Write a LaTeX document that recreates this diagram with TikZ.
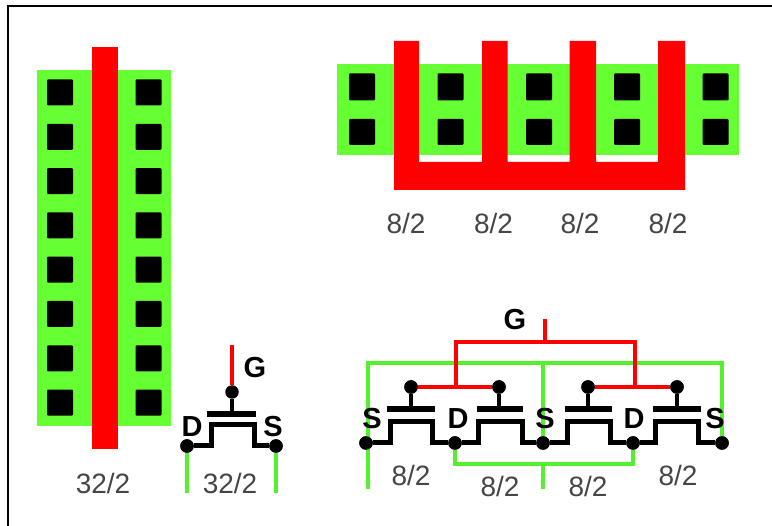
\documentclass[tikz,border=0pt]{standalone}
\usepackage{fontspec}
\setmainfont{Liberation Sans}
\usepackage{tikz}
\usetikzlibrary{calc}
\definecolor{mygreen}{RGB}{102,255,51}
\definecolor{mywire}{RGB}{85,240,45}
\definecolor{myred}{RGB}{255,0,0}
\definecolor{mygray}{RGB}{70,70,70}
\tikzset{
    diffusion/.style = {fill=mygreen},
    poly/.style      = {fill=myred},
    contact/.style   = {fill=black, rounded corners=1pt},
    wireG/.style     = {draw=mywire, line width=4.8pt},
    wireR/.style     = {draw=myred, line width=4.8pt},
    channel/.style   = {draw=black, line width=5pt},
    plate/.style     = {draw=black, line width=6.4pt},
    stem/.style      = {draw=black, line width=4.2pt},
    dot/.style       = {circle, fill=black, minimum size=13.5pt, inner sep=0pt},
    size/.style      = {text=mygray, font=\fontsize{28}{30}\selectfont, inner sep=0pt},
    pin/.style       = {text=black, font=\fontsize{29}{31}\selectfont\bfseries, inner sep=0pt},
}

\begin{document}
\begin{tikzpicture}[x=1pt,y=-1pt]
    \useasboundingbox (0,0) rectangle (772,526);
    \fill[white] (0,0) rectangle (772,526);
    \draw[black, line width=1.6pt] (8,526) -- (8,6) -- (772,6);

    % Layout left
    \fill[diffusion] (37,70) rectangle (171,426);
    \foreach \i in {0,...,7} {
        \fill[contact] ($(47,79.5)+(0,44.3*\i)$) rectangle +(26,26);
        \fill[contact] ($(135.5,79.5)+(0,44.3*\i)$) rectangle +(26,26);
    }
    \fill[poly] (92,47) rectangle (117.5,449);
    \node[size] (wide) at (103,483) {32/2};

    % Layout right
    \fill[diffusion] (337,64) rectangle (739,155);
    \foreach \x in {349,437.5,526,614,702.5} {
        \fill[contact] (\x,73.5) rectangle +(26,27);
        \fill[contact] (\x,119) rectangle +(26,26);
    }
    \fill[poly] (394,41) -- (419,41) -- (419,162) -- (482,162) -- (482,41)
        -- (507.5,41) -- (507.5,162) -- (569.5,162) -- (569.5,41) -- (596,41)
        -- (596,162) -- (658,162) -- (658,41) -- (685,41) -- (685,190) -- (394,190) -- cycle;
    \foreach \x/\n in {406/a,493.5/b,580/c,668/d} {
        \node[size] (layout\n) at (\x,223) {8/2};
    }

    % Single transistor
    \node[dot] (gate) at (232,392) {};
    \node[dot] (drain) at (187,446) {};
    \node[dot] (source) at (276,446) {};
    \coordinate (gateTop) at (232,345);
    \coordinate (plateL) at (207,414);
    \coordinate (plateR) at (256,414);
    \coordinate (plateM) at (232,414);
    \coordinate (drainEnd) at (187,493);
    \coordinate (sourceEnd) at (276,493);
    \draw[wireR] (gateTop) -- (gate);
    \draw[wireG] (drain) -- (drainEnd);
    \draw[wireG] (source) -- (sourceEnd);
    \draw[stem] (gate) -- (plateM);
    \draw[plate] (plateL) -- (plateR);
    \draw[channel] (drain) -- ++(24,0) |- (232,425) -| (254,446) -- (source);
    \node[dot] at (drain) {};
    \node[dot] at (source) {};
    \node[pin] (labelG) at (255,368) {G};
    \node[pin] (labelD) at (192,427) {D};
    \node[pin] (labelS) at (273,427) {S};
    \node[size] (narrow) at (230,483) {32/2};

    % Four parallel transistors
    \node[dot] (g1) at (411,387) {};
    \node[dot] (g2) at (499,387) {};
    \node[dot] (g3) at (588,387) {};
    \node[dot] (g4) at (677,387) {};
    \node[dot] (s1) at (366,443) {};
    \node[dot] (d1) at (455,443) {};
    \node[dot] (s2) at (543,443) {};
    \node[dot] (d2) at (633,443) {};
    \node[dot] (s3) at (722,443) {};
    \coordinate (gTop) at (545,319);
    \coordinate (busL) at (456,342);
    \coordinate (busR) at (635,342);
    \coordinate (railL) at (368,363);
    \coordinate (railR) at (722,363);
    \coordinate (s1End) at (368,489);
    \coordinate (s2End) at (543,489);

    % Green wires
    \draw[wireG] (s1End) -- (railL) -- (railR) -- (s3);
    \draw[wireG] (s2 |- railL) -- (s2);
    \draw[wireG] (d1) |- (d2 |- 0,464) -- (d2);
    \draw[wireG] (s2 |- 0,464) -- (s2End);

    % Red wires
    \draw[wireR] (gTop) -- (gTop |- busL);
    \draw[wireR] (busL |- g1) -- (busL) -- (busR) -- (busR |- g3);
    \draw[wireR] (g1) -- (g2);
    \draw[wireR] (g3) -- (g4);

    % Gates and channels
    \foreach \g/\a/\b in {g1/387/435,g2/477/523,g3/565/612,g4/653/701} {
        \draw[stem] (\g) -- (\g |- 0,409);
        \draw[plate] (\a,409) -- (\b,409);
    }
    \draw[channel] (s1) -- ++(24,0) |- (411,422) -| (432,443) -- (d1);
    \draw[channel] (d1) -- ++(23,0) |- (499,422) -| (522,443) -- (s2);
    \draw[channel] (s2) -- ++(24,0) |- (588,422) -| (610,443) -- (d2);
    \draw[channel] (d2) -- ++(22,0) |- (677,422) -| (698,443) -- (s3);
    \foreach \n in {g1,g2,g3,g4,s1,d1,s2,d2,s3} {
        \node[dot] at (\n) {};
    }

    % Labels
    \node[pin] (labelBank) at (515,320) {G};
    \node[pin] (pinS1) at (372,419) {S};
    \node[pin] (pinD1) at (458,419) {D};
    \node[pin] (pinS2) at (545,419) {S};
    \node[pin] (pinD2) at (634,419) {D};
    \node[pin] (pinS3) at (715,419) {S};
    \node[size] (size1) at (411,475) {8/2};
    \node[size] (size2) at (500,486) {8/2};
    \node[size] (size3) at (588,486) {8/2};
    \node[size] (size4) at (678,475) {8/2};
\end{tikzpicture}
\end{document}
